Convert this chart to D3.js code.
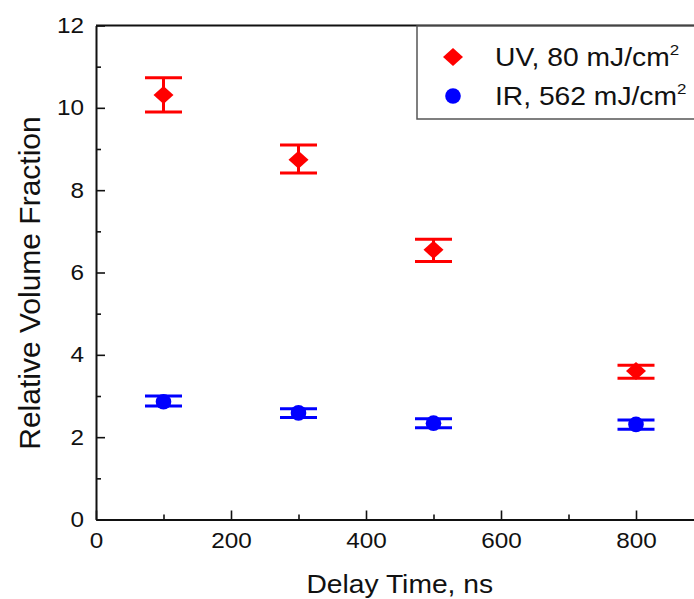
<!DOCTYPE html>
<html>
<head>
<meta charset="utf-8">
<script src="https://cdn.jsdelivr.net/npm/d3@7"></script>
<style>
  html, body { margin: 0; padding: 0; background: #fff; }
  svg { display: block; font-family: "Liberation Sans", Arial, sans-serif; }
</style>
</head>
<body>
<div id="chart"></div>
<script>
// ── Data ────────────────────────────────────────────────────────────
const delays   = [100, 300, 500, 800];
const uvValue  = [10.31, 8.74, 6.55, 3.61];
const uvLow    = [9.90, 8.42, 6.27, 3.43];
const uvHigh   = [10.73, 9.10, 6.81, 3.75];
const irValue  = [2.86, 2.59, 2.34, 2.31];
const irLow    = [2.76, 2.48, 2.23, 2.19];
const irHigh   = [3.00, 2.69, 2.45, 2.42];
const xMajor   = [0, 200, 400, 600, 800];
const xMinor   = [100, 300, 500, 700];
const yMajor   = [0, 2, 4, 6, 8, 10, 12];
const yMinor   = [1, 3, 5, 7, 9, 11];
const legendLabels = ['UV, 80 mJ/cm', 'IR, 562 mJ/cm'];

const W = 694, H = 599;
const SX = 1.13;   // the picture is a bit stretched horizontally

const svg = d3.select('#chart').append('svg')
  .attr('width', W).attr('height', H);

const x = d3.scaleLinear().domain([0, 900]).range([96, 703.5]);
const y = d3.scaleLinear().domain([0, 12]).range([519.5, 25.5]);

// ── Axes ────────────────────────────────────────────────────────────
function styleAxis(g) {
  g.select('.domain').attr('stroke', '#111').attr('stroke-width', 2);
  g.selectAll('.tick line').attr('stroke', '#111').attr('stroke-width', 1.6);
}

const xAxisG = svg.append('g')
  .attr('transform', `translate(0, ${y(0)})`)
  .call(d3.axisBottom(x).tickValues(xMajor).tickSize(-9).tickSizeOuter(0).tickPadding(13.6));
xAxisG.append('g').call(d3.axisBottom(x).tickValues(xMinor).tickSize(-5).tickFormat(''))
  .select('.domain').remove();
xAxisG.selectAll('text')
  .attr('font-size', 21.5).attr('fill', '#111').attr('font-family', '"Liberation Sans", Arial, sans-serif')
  .attr('transform', `scale(${SX},1)`);
styleAxis(xAxisG);

const yAxisG = svg.append('g')
  .attr('transform', `translate(${x(0)}, 0)`)
  .call(d3.axisLeft(y).tickValues(yMajor).tickSize(-9).tickSizeOuter(0).tickPadding(10.6));
yAxisG.append('g').call(d3.axisLeft(y).tickValues(yMinor).tickSize(-5).tickFormat(''))
  .select('.domain').remove();
yAxisG.selectAll('text')
  .attr('font-size', 21.5).attr('fill', '#111').attr('font-family', '"Liberation Sans", Arial, sans-serif')
  .attr('transform', `scale(${SX},1)`);
styleAxis(yAxisG);

// top frame line
svg.append('line')
  .attr('x1', x(0)).attr('x2', x(900))
  .attr('y1', y(12)).attr('y2', y(12))
  .attr('stroke', '#111').attr('stroke-width', 2);

// ── Axis titles ─────────────────────────────────────────────────────
svg.append('text')
  .attr('transform', `translate(${(x(0) + x(900)) / 2}, 593) scale(${SX},1)`)
  .attr('text-anchor', 'middle')
  .attr('font-size', 25).attr('fill', '#111')
  .text('Delay Time, ns');

svg.append('text')
  .attr('transform', `translate(40, 283) rotate(-90)`)
  .attr('text-anchor', 'middle')
  .attr('font-size', 30).attr('fill', '#111')
  .text('Relative Volume Fraction');

// ── Series ──────────────────────────────────────────────────────────
const series = [
  { color: '#ff0000', shape: 'diamond', value: uvValue, lo: uvLow, hi: uvHigh },
  { color: '#0000ff', shape: 'circle',  value: irValue, lo: irLow, hi: irHigh }
];

const capHalf = 18.5;

function diamond(cx, cy, w, h) {
  return `M${cx},${cy - h / 2}L${cx + w / 2},${cy}L${cx},${cy + h / 2}L${cx - w / 2},${cy}Z`;
}

function drawMarker(g, shape, color, cx, cy) {
  if (shape === 'diamond') {
    g.append('path').attr('d', diamond(cx, cy, 20, 18)).attr('fill', color);
  } else {
    g.append('ellipse').attr('cx', cx).attr('cy', cy)
      .attr('rx', 7.8).attr('ry', 7.8).attr('fill', color);
  }
}

series.forEach(s => {
  const g = svg.append('g');
  delays.forEach((d, i) => {
    const cx = x(d);
    g.append('line')
      .attr('x1', cx).attr('x2', cx)
      .attr('y1', y(s.lo[i])).attr('y2', y(s.hi[i]))
      .attr('stroke', s.color).attr('stroke-width', 3);
    [s.lo[i], s.hi[i]].forEach(v => {
      g.append('line')
        .attr('x1', cx - capHalf).attr('x2', cx + capHalf)
        .attr('y1', y(v)).attr('y2', y(v))
        .attr('stroke', s.color).attr('stroke-width', 3);
    });
    drawMarker(g, s.shape, s.color, cx, y(s.value[i]));
  });
});

// ── Legend ──────────────────────────────────────────────────────────
const legG = svg.append('g');
legG.append('rect')
  .attr('x', 417).attr('y', 26)
  .attr('width', 300).attr('height', 93)
  .attr('fill', '#fff').attr('stroke', '#555').attr('stroke-width', 1.5);

const legRows = [57, 96];
series.forEach((s, i) => {
  drawMarker(legG, s.shape, s.color, 453, legRows[i]);
  const t = legG.append('text')
    .attr('transform', `translate(495, ${legRows[i] + 8.5}) scale(${SX},1)`)
    .attr('font-size', 25).attr('fill', '#111');
  t.append('tspan').text(legendLabels[i]);
  t.append('tspan').attr('font-size', 15).attr('dy', -11).text('2');
});
</script>
</body>
</html>
